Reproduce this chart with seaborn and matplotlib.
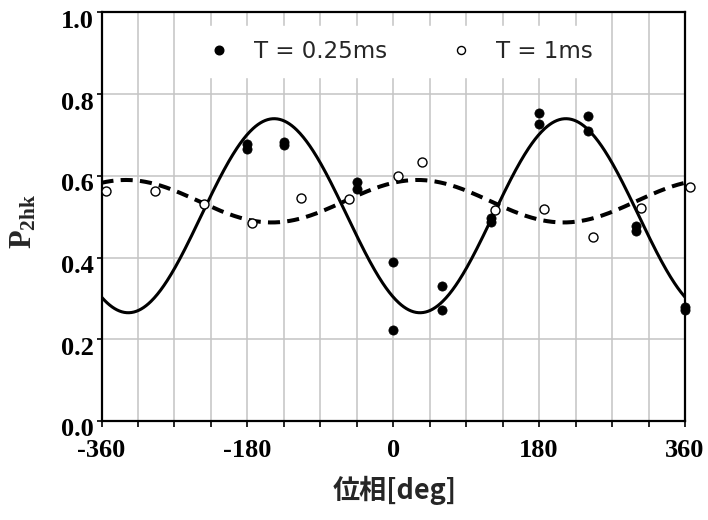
import numpy as np
import pandas as pd
import matplotlib
matplotlib.use("Agg")
import matplotlib.pyplot as plt
import matplotlib.transforms as mtransforms
from matplotlib.lines import Line2D
import seaborn as sns

# ---- data ----
phase_025 = [-180, -180, -135, -135, -45, -45, 0, 0, 60, 60,
             120, 120, 180, 180, 240, 240, 300, 300, 360, 360]
p2hk_025 = [0.678, 0.667, 0.683, 0.676, 0.584, 0.568, 0.388, 0.222, 0.330, 0.272,
            0.498, 0.486, 0.753, 0.728, 0.746, 0.711, 0.478, 0.466, 0.280, 0.272]

phase_1 = [-354, -294, -234, -174, -114, -54, 6, 36, 126, 186, 246, 306, 366]
p2hk_1 = [0.563, 0.563, 0.531, 0.484, 0.547, 0.543, 0.600, 0.635,
          0.516, 0.519, 0.451, 0.521, 0.573]

# cosine fit curves drawn in the chart: offset, amplitude, phase of peak [deg]
fit_025 = dict(offset=0.5025, amp=0.2375, peak=213)
fit_1 = dict(offset=0.538, amp=0.052, peak=30)

series_labels = ["T = 0.25ms", "T = 1ms"]
xtick_vals = list(range(-360, 361, 45))
xtick_labels = ["-360", "", "", "", "-180", "", "", "", "0", "", "", "", "180", "", "", "", "360"]
ytick_vals = [0.0, 0.2, 0.4, 0.6, 0.8, 1.0]
ytick_labels = ["0.0", "0.2", "0.4", "0.6", "0.8", "1.0"]
xlabel = "位相[deg]"

# ---- style ----
sns.set_theme(style="white")
plt.rcParams["font.family"] = ["Liberation Serif", "DejaVu Sans"]
plt.rcParams["mathtext.fontset"] = "custom"
plt.rcParams["mathtext.bf"] = "Liberation Serif:bold"
plt.rcParams["mathtext.rm"] = "Liberation Serif:bold"

fig = plt.figure(figsize=(7.08, 5.2), dpi=100)
ax = fig.add_axes([0.1434, 0.1904, 0.8241, 0.7856])

# curves
xs = np.linspace(-360, 360, 721)
curve_df = pd.DataFrame({
    "phase": np.concatenate([xs, xs]),
    "value": np.concatenate([
        fit_025["offset"] + fit_025["amp"] * np.cos(np.radians(xs - fit_025["peak"])),
        fit_1["offset"] + fit_1["amp"] * np.cos(np.radians(xs - fit_1["peak"])),
    ]),
    "series": [series_labels[0]] * len(xs) + [series_labels[1]] * len(xs),
})
sns.lineplot(data=curve_df[curve_df.series == series_labels[0]], x="phase", y="value",
             color="black", lw=2.2, ax=ax, legend=False, zorder=3)
sns.lineplot(data=curve_df[curve_df.series == series_labels[1]], x="phase", y="value",
             color="black", lw=2.9, ax=ax, legend=False, zorder=3,
             dashes=False)
ax.lines[-1].set_dashes((3.0, 1.8))
ax.lines[-1].set_dash_capstyle("butt")

# points
sns.scatterplot(x=phase_025, y=p2hk_025, ax=ax, color="black", s=44,
                edgecolor="black", linewidth=0.5, zorder=4, clip_on=False)
sns.scatterplot(x=phase_1, y=p2hk_1, ax=ax, facecolor="white", s=42,
                edgecolor="black", linewidth=1.0, zorder=4, clip_on=False)

ax.set_xlim(-360, 360)
ax.set_ylim(0, 1.0)
ax.set_xticks(xtick_vals)
ax.set_xticklabels(xtick_labels)
ax.set_yticks(ytick_vals)
ax.set_yticklabels(ytick_labels)

ax.grid(True, color="#c4c4c4", lw=1.1)
ax.set_axisbelow(True)
for sp in ax.spines.values():
    sp.set_visible(True)
    sp.set_color("black")
    sp.set_linewidth(1.6)

ax.tick_params(axis="x", direction="out", length=4.3, width=1.2, pad=9,
               labelsize=19, colors="black", bottom=True)
ax.tick_params(axis="y", direction="out", length=3.6, width=1.2, pad=2,
               labelsize=19, colors="black", left=True)
for lab in ax.get_xticklabels() + ax.get_yticklabels():
    lab.set_fontweight("bold")
    lab.set_family("Liberation Serif")

offset = mtransforms.ScaledTranslation(0, -6.5 / 100, fig.dpi_scale_trans)
for tick in ax.yaxis.get_major_ticks():
    tick.label1.set_transform(tick.label1.get_transform() + offset)

ax.set_xlabel("")
ax.set_ylabel("")
fig.text(395 / 708, 1 - 490 / 520, xlabel, ha="center", va="center",
         fontsize=19.5, fontweight="bold",
         family=["Noto Sans CJK JP", "DejaVu Sans"])
fig.text(24 / 708, 1 - 221 / 520, r"$\mathbf{P_{2hk}}$", ha="center", va="center",
         rotation=90, fontsize=22)

handles = [
    Line2D([], [], ls="none", marker="o", color="black", markersize=6.2),
    Line2D([], [], ls="none", marker="o", markerfacecolor="white",
           markeredgecolor="black", markeredgewidth=1.0, markersize=5.8),
]
leg = ax.legend(handles, series_labels, ncol=2, loc="center",
                bbox_to_anchor=(0.512, 0.905), frameon=True, fancybox=False,
                facecolor="white", edgecolor="white", framealpha=1,
                prop={"family": "DejaVu Sans", "size": 16.5},
                handletextpad=1.03, columnspacing=2.7, handlelength=1.0,
                borderpad=0.6)
leg.set_zorder(5)

fig.savefig("out.png", dpi=100)
